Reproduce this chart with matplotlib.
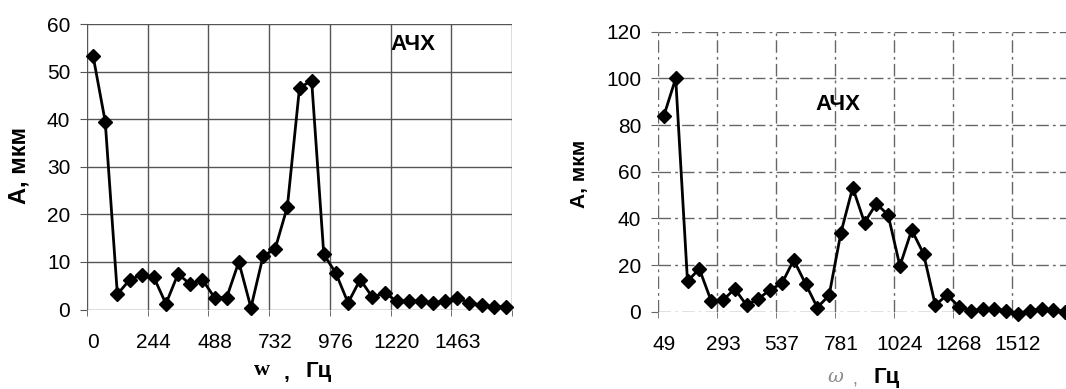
import matplotlib.pyplot as plt
from matplotlib.ticker import FixedLocator

plt.rcParams['font.family'] = ['Liberation Sans', 'DejaVu Sans']

W, H = 1066, 389

# left chart (w, Hz) - 35 spectral lines, step ~48.8 Hz
left_ticklabels = ['0', '244', '488', '732', '976', '1220', '1463']
left_amp = [53.3, 39.5, 3.2, 6.2, 7.3, 6.8, 1.2, 7.5, 5.3, 6.3,
            2.5, 2.5, 10.0, 0.4, 11.2, 12.8, 21.6, 46.6, 48.1, 11.6,
            7.6, 1.4, 6.3, 2.6, 3.5, 1.8, 1.8, 1.8, 1.4, 1.7,
            2.4, 1.4, 0.9, 0.5, 0.6]

# right chart (omega, Hz)
right_ticklabels = ['49', '293', '537', '781', '1024', '1268', '1512']
right_amp = [84.0, 100.0, 13.0, 18.4, 4.7, 4.9, 9.8, 2.8, 5.4, 9.5,
             12.1, 22.2, 12.0, 1.8, 7.0, 33.8, 53.2, 38.2, 46.3, 41.5,
             19.6, 35.0, 24.9, 2.8, 7.2, 2.2, 0.3, 1.1, 1.1, 0.4,
             -0.8, 0.4, 1.1, 0.9, 0.0]


def px(x0, y_top, x1, y_bot):
    return [x0 / W, 1 - y_bot / H, (x1 - x0) / W, (y_bot - y_top) / H]


def draw_chart(ax, amp, ticklabels, ymax, ystep, grid_style, grid_color):
    n = len(amp)
    xs = list(range(n))
    ax.plot(xs, amp, color='black', lw=2.0, marker='D', ms=7.3,
            mfc='black', mec='black', clip_on=False, zorder=5)
    ax.set_xlim(-0.5, n - 0.5)
    ax.set_ylim(0, ymax)
    ax.set_xticks(list(range(0, n, 5))[:len(ticklabels)])
    ax.set_xticklabels(ticklabels)
    ax.xaxis.set_minor_locator(FixedLocator([k - 0.5 for k in range(0, n + 1, 5)]))
    ax.set_yticks(list(range(0, ymax + 1, ystep)))
    for s in ax.spines.values():
        s.set_visible(False)
    ax.grid(True, which='minor', axis='x', color=grid_color, lw=1.0, ls=grid_style)
    ax.grid(True, which='major', axis='y', color=grid_color, lw=1.0, ls=grid_style)
    ax.tick_params(axis='x', which='major', length=0, pad=17, labelsize=15)
    ax.tick_params(axis='x', which='minor', length=4, color=grid_color)
    ax.tick_params(axis='y', length=5, pad=7, labelsize=15, color=grid_color)


fig = plt.figure(figsize=(W / 100, H / 100), dpi=100)

ax1 = fig.add_axes(px(87, 24, 512, 309.5))
draw_chart(ax1, left_amp, left_ticklabels, 60, 10, '-', '#555555')

ax2 = fig.add_axes(px(658, 31.7, 1071, 311.7))
draw_chart(ax2, right_amp, right_ticklabels, 120, 20, (0, (9, 3, 2, 3)), '#666666')


def ftext(x, y, s, **kw):
    fig.text(x / W, 1 - y / H, s, ha='center', va='center', **kw)


# in-plot titles
ftext(413, 44, 'АЧХ', fontsize=16, fontweight='bold')
ftext(838, 105, 'АЧХ', fontsize=16, fontweight='bold')

# y labels
ftext(19, 165, 'А, мкм', fontsize=17, fontweight='bold', rotation=90)
ftext(579, 174, 'А, мкм', fontsize=15, fontweight='bold', rotation=90)

# x labels
ftext(262, 370, 'w', fontsize=16, fontweight='bold', family='Liberation Serif')
ftext(286, 373, ',', fontsize=15, fontweight='bold')
ftext(319, 371, 'Гц', fontsize=16, fontweight='bold')
ftext(835, 377, 'ω', fontsize=14, style='italic', color='#8a8a8a', family='DejaVu Serif')
ftext(855, 380, ',', fontsize=13, color='#8a8a8a')
ftext(887, 377, 'Гц', fontsize=16, fontweight='bold')

fig.savefig('out.png', dpi=100)
